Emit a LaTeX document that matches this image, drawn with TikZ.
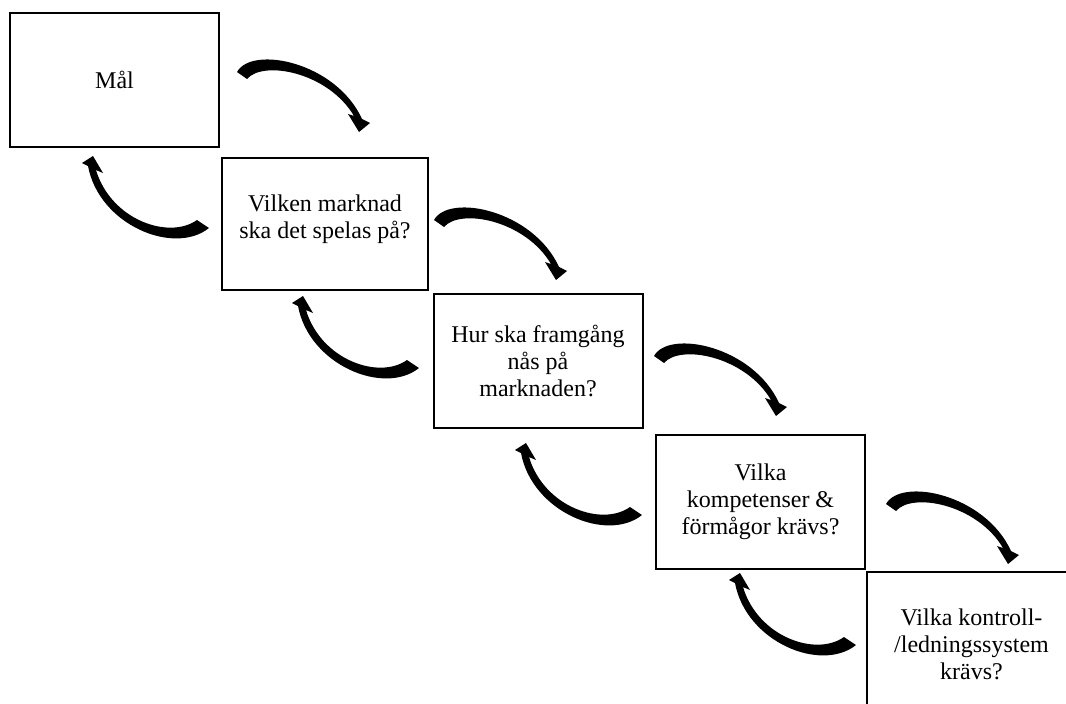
\documentclass[tikz,border=0pt]{standalone}
\usepackage{fontspec}
\setmainfont{Liberation Serif}
\usetikzlibrary{calc}
\begin{document}
\begin{tikzpicture}[x=1pt,y=-1pt,
  ruta/.style={draw,line width=2pt,minimum width=209pt,minimum height=134pt,
    align=center,inner sep=0pt,font=\fontsize{24}{27}\selectfont},
  framat/.pic={\fill (-5,-3) .. controls (10,-30) and (94,-13) .. (120,44) -- (128,48)
    -- (117,57) -- (106,39) -- (112,41) .. controls (86,-3) and (21,-15) .. (5,4) -- cycle;},
  bakat/.pic={\fill (6,4) .. controls (-29,32) and (-104,1) .. (-115,-58) -- (-121,-61)
    -- (-110,-68) -- (-100,-51) -- (-107,-54) .. controls (-92,-4) and (-34,16) .. (-6,-4) -- cycle;}]
 \path[use as bounding box,clip] (0,0) rectangle (1066,704);
 % rutorna
 \node[ruta] (mal) at (114.5,80) {Mål};
 \node[ruta,minimum width=206pt,minimum height=132pt,text depth=14pt] (marknad) at (325,224) {Vilken marknad\\ska det spelas på?};
 \node[ruta] (framgang) at (538,361) {Hur ska framgång\\nås på\\marknaden?};
 \node[ruta] (kompetens) at (760.5,502) {Vilka\\kompetenser \&\\förmågor krävs?};
 \node[ruta,minimum height=144pt] (styrning) at (971.5,644) {Vilka kontroll-\\/ledningssystem\\krävs?};
 % pilar framat
 \pic at ($(mal.east)+(22,-5)$) {framat};
 \pic at ($(marknad.east)+(10,-1)$) {framat};
 \pic at ($(framgang.east)+(15.5,-2)$) {framat};
 \pic at ($(kompetens.east)+(25,5)$) {framat};
 % pilar bakat
 \pic at ($(marknad.west)+(-18,0)$) {bakat};
 \pic at ($(framgang.west)+(-19.5,3)$) {bakat};
 \pic at ($(kompetens.west)+(-19,9)$) {bakat};
 \pic at ($(styrning.west)+(-16,-3)$) {bakat};
\end{tikzpicture}
\end{document}
